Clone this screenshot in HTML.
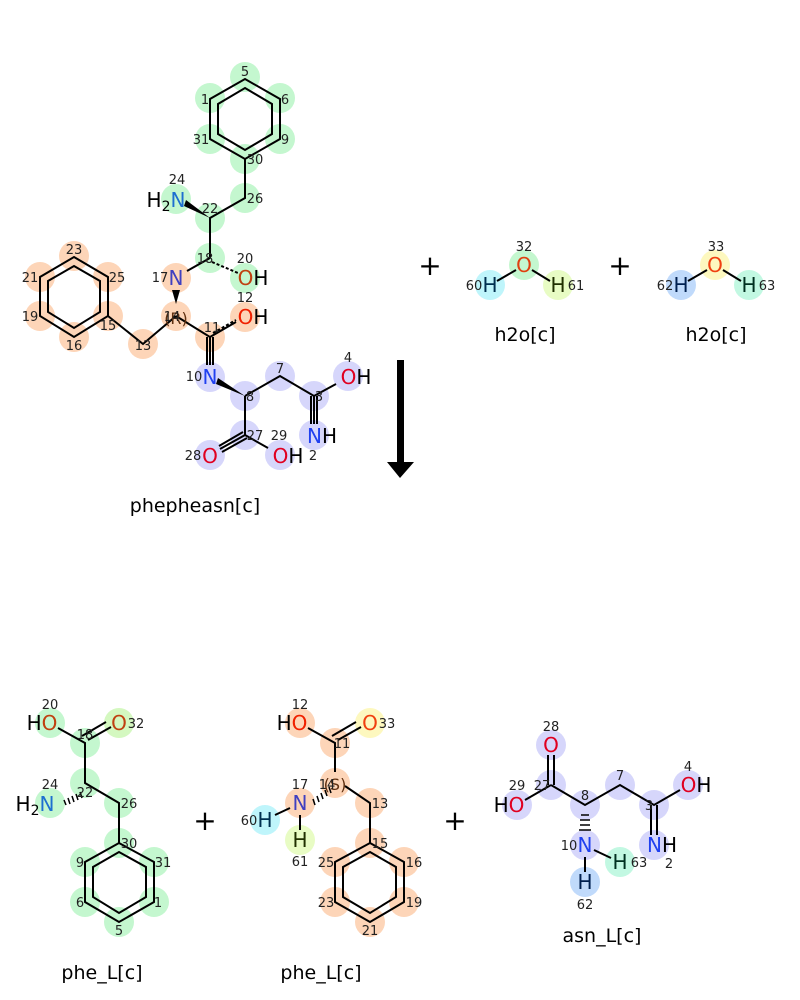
<!DOCTYPE html>
<html><head><meta charset="utf-8"><style>
html,body{margin:0;padding:0;background:#fff;}
svg{display:block;font-family:"DejaVu Sans","Liberation Sans",sans-serif;}
.n{font-size:13px;fill:#222;}
.a{font-size:20px;}
.t{font-size:19px;fill:#000;}
.p{font-size:28px;fill:#000;}
</style></head><body>
<svg width="800" height="1000" viewBox="0 0 800 1000" xmlns="http://www.w3.org/2000/svg">
<g stroke="none">
<g fill="#c4f7cf">
<circle cx="245" cy="77" r="15"/><circle cx="210" cy="98" r="15"/><circle cx="280" cy="98" r="15"/>
<circle cx="210" cy="139" r="15"/><circle cx="280" cy="139" r="15"/><circle cx="245" cy="159" r="15"/>
<circle cx="245" cy="198" r="15"/><circle cx="210" cy="218" r="15"/><circle cx="176" cy="199" r="15"/>
<circle cx="210" cy="258" r="15"/><circle cx="245" cy="278" r="15"/>
</g>
<g fill="#fdd5b8">
<circle cx="74" cy="256" r="15"/><circle cx="40" cy="277" r="15"/><circle cx="108" cy="277" r="15"/>
<circle cx="40" cy="316" r="15"/><circle cx="108" cy="316" r="15"/><circle cx="74" cy="337" r="15"/>
<circle cx="143" cy="344" r="15"/><circle cx="176" cy="316" r="15"/><circle cx="176" cy="278" r="15"/>
<circle cx="245" cy="317" r="15"/><circle cx="210" cy="337" r="15"/>
</g>
<g fill="#d6d6fb">
<circle cx="210" cy="377" r="15"/><circle cx="245" cy="396" r="15"/><circle cx="280" cy="376" r="15"/>
<circle cx="314" cy="396" r="15"/><circle cx="348" cy="376" r="15"/><circle cx="314" cy="435" r="15"/>
<circle cx="245" cy="435" r="15"/><circle cx="210" cy="455" r="15"/><circle cx="280" cy="455" r="15"/>
</g>
<circle cx="524" cy="265" r="15" fill="#c4f7cf"/><circle cx="490" cy="285" r="15" fill="#bff5fb"/><circle cx="558" cy="285" r="15" fill="#e8fcc4"/>
<circle cx="715" cy="265" r="15" fill="#fdf8bf"/><circle cx="681" cy="285" r="15" fill="#c0dafb"/><circle cx="749" cy="285" r="15" fill="#c2f8e2"/>
<g fill="#c4f7cf">
<circle cx="50" cy="723" r="15"/><circle cx="85" cy="743" r="15"/><circle cx="85" cy="783" r="15"/>
<circle cx="50" cy="803" r="15"/><circle cx="119" cy="803" r="15"/><circle cx="119" cy="843" r="15"/>
<circle cx="85" cy="862" r="15"/><circle cx="154" cy="862" r="15"/><circle cx="85" cy="902" r="15"/>
<circle cx="154" cy="902" r="15"/><circle cx="119" cy="922" r="15"/>
</g>
<circle cx="119" cy="723" r="15" fill="#d4f8c0"/>
<g fill="#fdd5b8">
<circle cx="300" cy="723" r="15"/><circle cx="335" cy="743" r="15"/><circle cx="335" cy="783" r="15"/>
<circle cx="300" cy="803" r="15"/><circle cx="370" cy="803" r="15"/><circle cx="370" cy="843" r="15"/>
<circle cx="335" cy="862" r="15"/><circle cx="404" cy="862" r="15"/><circle cx="335" cy="902" r="15"/>
<circle cx="404" cy="902" r="15"/><circle cx="370" cy="922" r="15"/>
</g>
<circle cx="370" cy="723" r="15" fill="#fdf8bf"/>
<circle cx="265" cy="820" r="15" fill="#bff5fb"/><circle cx="300" cy="840" r="15" fill="#e8fcc4"/>
<g fill="#d6d6fb">
<circle cx="551" cy="745" r="15"/><circle cx="551" cy="785" r="15"/><circle cx="517" cy="805" r="15"/>
<circle cx="585" cy="805" r="15"/><circle cx="620" cy="785" r="15"/><circle cx="654" cy="805" r="15"/>
<circle cx="688" cy="785" r="15"/><circle cx="654" cy="845" r="15"/><circle cx="585" cy="845" r="15"/>
</g>
<circle cx="620" cy="862" r="15" fill="#c2f8e2"/><circle cx="585" cy="882" r="15" fill="#c0dafb"/>
</g>

<g stroke="#000" stroke-width="2" fill="none">
<polygon points="245,79 280,99 280,139 245,159 210,139 210,99"/>
<polygon points="245,88 272,104 272,134 245,150 218,134 218,104"/>
<path d="M245,159V198L210,218V258M210,258L187,271M176,290V300M176,316L143,344L108,316M176,316L210,337L210,365M210,337L236,322M245,396L280,376L314,396L336,384M245,396V435L220,449M245,435L268,448M314,396V424"/>
<path d="M207,337V365M213,337V365" />
<path d="M311,396V424M317,396V424" />
<path d="M243,432L219,446M247,438L222,452"/>
<path d="M212,262L238,273" stroke-dasharray="3,2"/>
<path d="M213,333L236,320" stroke-dasharray="3,2"/>
<polygon points="74,257 108,277 108,316 74,337 40,316 40,277"/>
<polygon points="74,266 100,281 100,312 74,328 48,312 48,281"/>
<path d="M497,281L516,270M532,270L550,281M688,281L707,270M723,270L741,281"/>
<path d="M58,728L85,743V783L119,803V843M88,740L111,727M82,736L106,722"/>
<polygon points="119,843 154,862 154,902 119,922 85,902 85,862"/>
<polygon points="119,852 146,867 146,897 119,913 93,897 93,867"/>
<path d="M308,728L335,743V772M345,786L370,803V843M338,740L361,727M332,736L356,722M275,815L290,808M300,815V830"/>
<polygon points="370,843 404,862 404,902 370,922 335,902 335,862"/>
<polygon points="370,852 396,867 396,897 370,913 343,897 343,867"/>
<path d="M548,755V785M554,755V785M551,785L525,800M551,785L585,805L620,785L654,805L680,790M651,805V835M657,805V835M585,857V872M594,850L611,858"/>
</g>
<polygon points="210,218 186,200 184,206" fill="#000"/>
<polygon points="176,304 172,290 180,290" fill="#000"/>
<polygon points="245,396 218,378 216,384" fill="#000"/>
<g stroke="#000" stroke-width="1.5">
<path d="M64,800l2,5M68,798l2,6M72,796l2,6M76,794l2,6M80,792l2,6"/>
<path d="M313,799l2,6M317,796l2,6M321,793l2,6M325,790l2,6M329,787l2,6"/>
<path d="M581,815h8M580,820h10M580,825h10M579,830h12"/>
</g>
<rect x="397" y="360" width="7" height="104" fill="#000"/>
<polygon points="387,462 414,462 400,478" fill="#000"/>

<g class="a" text-anchor="middle">
<text x="166" y="207" fill="#000">H<tspan font-size="14" dy="4">2</tspan><tspan fill="#1e6fd0" dy="-4">N</tspan></text>
<text x="176" y="285" fill="#4040c0">N</text>
<text x="253" y="285"><tspan fill="#c04010">O</tspan>H</text>
<text x="253" y="324"><tspan fill="#f02000">O</tspan>H</text>
<text x="210" y="384" fill="#2040f0">N</text>
<text x="356" y="384"><tspan fill="#e00020">O</tspan>H</text>
<text x="322" y="443"><tspan fill="#2040f0">N</tspan>H</text>
<text x="210" y="463" fill="#e00020">O</text>
<text x="288" y="463"><tspan fill="#e00020">O</tspan>H</text>
<text x="524" y="272" fill="#e04010">O</text><text x="490" y="292" fill="#003050">H</text><text x="558" y="292" fill="#203000">H</text>
<text x="715" y="272" fill="#f04010">O</text><text x="681" y="292" fill="#002050">H</text><text x="749" y="292" fill="#003020">H</text>
<text x="42" y="730">H<tspan fill="#c04010">O</tspan></text>
<text x="119" y="730" fill="#c04010">O</text>
<text x="35" y="811">H<tspan font-size="14" dy="4">2</tspan><tspan fill="#1e6fd0" dy="-4">N</tspan></text>
<text x="292" y="730">H<tspan fill="#f02000">O</tspan></text>
<text x="370" y="730" fill="#f04010">O</text>
<text x="300" y="810" fill="#4040c0">N</text>
<text x="265" y="827" fill="#003050">H</text><text x="300" y="847" fill="#203000">H</text>
<text x="551" y="752" fill="#e00020">O</text>
<text x="509" y="812">H<tspan fill="#e00020">O</tspan></text>
<text x="696" y="792"><tspan fill="#e00020">O</tspan>H</text>
<text x="662" y="852"><tspan fill="#2040f0">N</tspan>H</text>
<text x="585" y="852" fill="#2040f0">N</text>
<text x="620" y="869" fill="#003020">H</text><text x="585" y="889" fill="#002050">H</text>
</g>
<text x="176" y="324" text-anchor="middle" font-size="16" fill="#603010">(R)</text>
<text x="335" y="790" text-anchor="middle" font-size="16" fill="#603010">(S)</text>

<g class="n" text-anchor="middle">
<text x="245" y="76">5</text><text x="205" y="104">1</text><text x="285" y="104">6</text><text x="201" y="144">31</text><text x="285" y="144">9</text><text x="255" y="164">30</text><text x="255" y="203">26</text><text x="210" y="213">22</text><text x="177" y="184">24</text><text x="205" y="263">18</text><text x="245" y="263">20</text><text x="160" y="282">17</text><text x="172" y="321">14</text><text x="245" y="302">12</text><text x="212" y="332">11</text><text x="143" y="350">13</text><text x="108" y="330">15</text><text x="74" y="254">23</text><text x="30" y="282">21</text><text x="117" y="282">25</text><text x="30" y="321">19</text><text x="74" y="350">16</text>
<text x="194" y="381">10</text><text x="250" y="401">8</text><text x="280" y="373">7</text><text x="319" y="401">3</text><text x="348" y="362">4</text><text x="313" y="460">2</text><text x="255" y="440">27</text><text x="279" y="440">29</text><text x="193" y="460">28</text>
<text x="524" y="251">32</text><text x="474" y="290">60</text><text x="576" y="290">61</text>
<text x="716" y="251">33</text><text x="665" y="290">62</text><text x="767" y="290">63</text>
<text x="50" y="709">20</text><text x="136" y="728">32</text><text x="85" y="739">18</text><text x="50" y="789">24</text><text x="85" y="797">22</text><text x="129" y="808">26</text><text x="129" y="848">30</text><text x="80" y="867">9</text><text x="163" y="867">31</text><text x="80" y="907">6</text><text x="158" y="907">1</text><text x="119" y="935">5</text>
<text x="300" y="709">12</text><text x="387" y="728">33</text><text x="342" y="748">11</text><text x="300" y="789">17</text><text x="327" y="789">14</text><text x="380" y="808">13</text><text x="380" y="848">15</text><text x="326" y="867">25</text><text x="414" y="867">16</text><text x="326" y="907">23</text><text x="414" y="907">19</text><text x="370" y="935">21</text><text x="249" y="825">60</text><text x="300" y="866">61</text>
<text x="551" y="731">28</text><text x="542" y="790">27</text><text x="517" y="790">29</text><text x="585" y="800">8</text><text x="620" y="780">7</text><text x="649" y="810">3</text><text x="688" y="771">4</text><text x="669" y="868">2</text><text x="569" y="850">10</text><text x="639" y="867">63</text><text x="585" y="909">62</text>
</g>

<g class="p" text-anchor="middle">
<text x="430" y="275">+</text><text x="620" y="275">+</text><text x="205" y="830">+</text><text x="455" y="830">+</text>
</g>
<g class="t" text-anchor="middle">
<text x="195" y="512">phepheasn[c]</text>
<text x="525" y="341">h2o[c]</text><text x="716" y="341">h2o[c]</text>
<text x="102" y="979">phe_L[c]</text><text x="321" y="979">phe_L[c]</text><text x="602" y="942">asn_L[c]</text>
</g>
</svg>
</body></html>
